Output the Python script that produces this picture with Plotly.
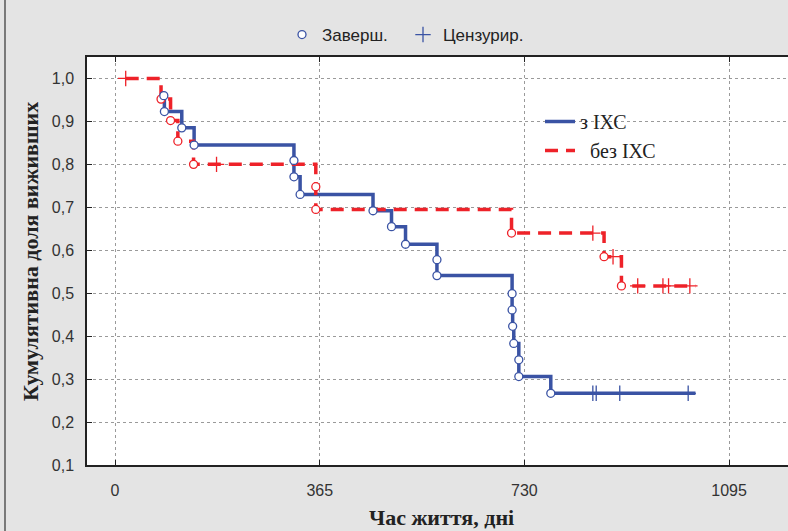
import plotly.graph_objects as go

# ---------------- data ----------------
# group "з ІХС" (with IHD)
ihd_event_days = [87, 88, 119, 141, 319, 319, 330, 460, 493, 518, 574, 574,
                  708, 708, 709, 711, 720, 720, 777]
ihd_event_surv = [0.960, 0.923, 0.885, 0.845, 0.809, 0.771, 0.730, 0.692, 0.655,
                  0.614, 0.578, 0.541, 0.499, 0.461, 0.423, 0.383, 0.345, 0.306, 0.267]
ihd_cens_days = [852, 858, 900, 1022]
ihd_cens_surv = [0.267, 0.267, 0.267, 0.267]
ihd_last_day = 1035

# group "без ІХС" (without IHD)
noihd_event_days = [82, 99, 112, 140, 358, 358, 707, 872, 903]
noihd_event_surv = [0.952, 0.902, 0.854, 0.800, 0.748, 0.695, 0.640, 0.585, 0.517]
noihd_cens_days = [19, 181, 852, 888, 932, 977, 987, 1025]
noihd_cens_surv = [1.0, 0.800, 0.640, 0.585, 0.517, 0.517, 0.517, 0.517]
noihd_last_day = 1035

x_ticks = [0, 365, 730, 1095]
y_ticks = [0.1, 0.2, 0.3, 0.4, 0.5, 0.6, 0.7, 0.8, 0.9, 1.0]
y_tick_text = ["0,1", "0,2", "0,3", "0,4", "0,5", "0,6", "0,7", "0,8", "0,9", "1,0"]

series_names = ["з ІХС", "\u00a0\u00a0без ІХС"]
marker_names = ["Заверш.", "Цензурир."]
x_title = "Час життя, дні"
y_title = "Кумулятивна доля виживших"

BLUE = "#3a53a4"
RED = "#ee2229"
SERIF = "Liberation Serif, Times New Roman, serif"


def step_path(ev_d, ev_s, ce_d, ce_s, last_day):
    pts = list(zip(ev_d, ev_s)) + list(zip(ce_d, ce_s))
    pts.sort(key=lambda p: (p[0], -p[1]))
    xs = [p[0] for p in pts] + [last_day]
    ys = [p[1] for p in pts] + [pts[-1][1]]
    return xs, ys


bx, by = step_path(ihd_event_days, ihd_event_surv, ihd_cens_days, ihd_cens_surv, ihd_last_day)
rx, ry = step_path(noihd_event_days, noihd_event_surv, noihd_cens_days, noihd_cens_surv, noihd_last_day)

fig = go.Figure()

fig.add_trace(go.Scatter(x=bx, y=by, mode="lines", line=dict(color=BLUE, width=3.5, shape="hv"),
                         name=series_names[0], legend="legend2"))
fig.add_trace(go.Scatter(x=rx, y=ry, mode="lines",
                         line=dict(color=RED, width=3.5, shape="hv", dash="13px,8px"),
                         name=series_names[1], legend="legend2"))

# censored marks
fig.add_trace(go.Scatter(x=noihd_cens_days, y=noihd_cens_surv, mode="markers",
                         marker=dict(symbol="cross-thin", size=11, line=dict(color=RED, width=1.3)),
                         showlegend=False))
fig.add_trace(go.Scatter(x=ihd_cens_days, y=ihd_cens_surv, mode="markers",
                         marker=dict(symbol="cross-thin", size=11, line=dict(color=BLUE, width=1.3)),
                         name=marker_names[1], legend="legend"))
# completed (events)
fig.add_trace(go.Scatter(x=noihd_event_days, y=noihd_event_surv, mode="markers",
                         marker=dict(symbol="circle", size=8, color="white", line=dict(color=RED, width=1.3)),
                         showlegend=False))
fig.add_trace(go.Scatter(x=ihd_event_days, y=ihd_event_surv, mode="markers",
                         marker=dict(symbol="circle", size=8, color="white", line=dict(color=BLUE, width=1.3)),
                         name=marker_names[0], legend="legend"))

L, R, T, B = 87, 0, 57, 66
W, H = 788, 531
pw, ph = W - L - R, H - T - B

fig.update_layout(
    width=W, height=H, autosize=False,
    margin=dict(l=L, r=R, t=T, b=B, pad=0),
    paper_bgcolor="#e4e4e4", plot_bgcolor="white",
    font=dict(family="Liberation Sans, Arial, sans-serif", size=15, color="#222"),
    legend=dict(orientation="h", x=(282 - L) / pw, xanchor="left", y=1 + (T - 35) / ph, yanchor="middle",
                bgcolor="rgba(0,0,0,0)", font=dict(size=17, color="#222"), traceorder="reversed",
                itemwidth=30, entrywidth=76, entrywidthmode="pixels"),
    legend2=dict(x=(540 - L) / pw, xanchor="left", y=1 - (102 - T) / ph, yanchor="top",
                 bgcolor="rgba(0,0,0,0)", font=dict(family=SERIF, size=20, color="#222"),
                 tracegroupgap=0, itemwidth=30),
    xaxis=dict(range=[-50, 1200], tickvals=x_ticks, ticktext=[str(v) for v in x_ticks],
               showgrid=True, gridcolor="#9a9a9a", griddash="dot", gridwidth=1,
               showline=True, linecolor="#222", linewidth=1.5, mirror="ticks",
               ticks="inside", ticklen=5, tickcolor="#222", tickwidth=1.3,
               zeroline=False, ticklabelstandoff=10, tickfont=dict(size=16, color="#333")),
    yaxis=dict(range=[0.1, 1.05], tickvals=y_ticks, ticktext=y_tick_text,
               showgrid=True, gridcolor="#9a9a9a", griddash="dot", gridwidth=1,
               showline=True, linecolor="#222", linewidth=1.5, mirror=False,
               ticks="inside", ticklen=5, tickcolor="#222", tickwidth=1.3,
               zeroline=False, ticklabelstandoff=8, tickfont=dict(size=16, color="#333")),
    annotations=[
        dict(text="<b>" + x_title + "</b>", xref="paper", yref="paper",
             x=(441 - L) / pw, y=-(517 - (T + ph)) / ph, xanchor="center", yanchor="middle",
             showarrow=False, font=dict(family=SERIF, size=22, color="#222")),
        dict(text="<b>" + y_title + "</b>", xref="paper", yref="paper", textangle=-90,
             x=(30 - L) / pw, y=1 - (252 - T) / ph, xanchor="center", yanchor="middle",
             showarrow=False, font=dict(family=SERIF, size=22, color="#222")),
    ],
    shapes=[
        dict(type="line", xref="paper", yref="paper", x0=(5 - L) / pw, x1=(5 - L) / pw, y0=-0.3, y1=1.3,
             line=dict(color="#333", width=1.2)),
    ],
)

fig.write_html("out.html", config={"displayModeBar": False},
               post_script="document.body.style.margin='0';document.body.style.overflow='hidden';")
